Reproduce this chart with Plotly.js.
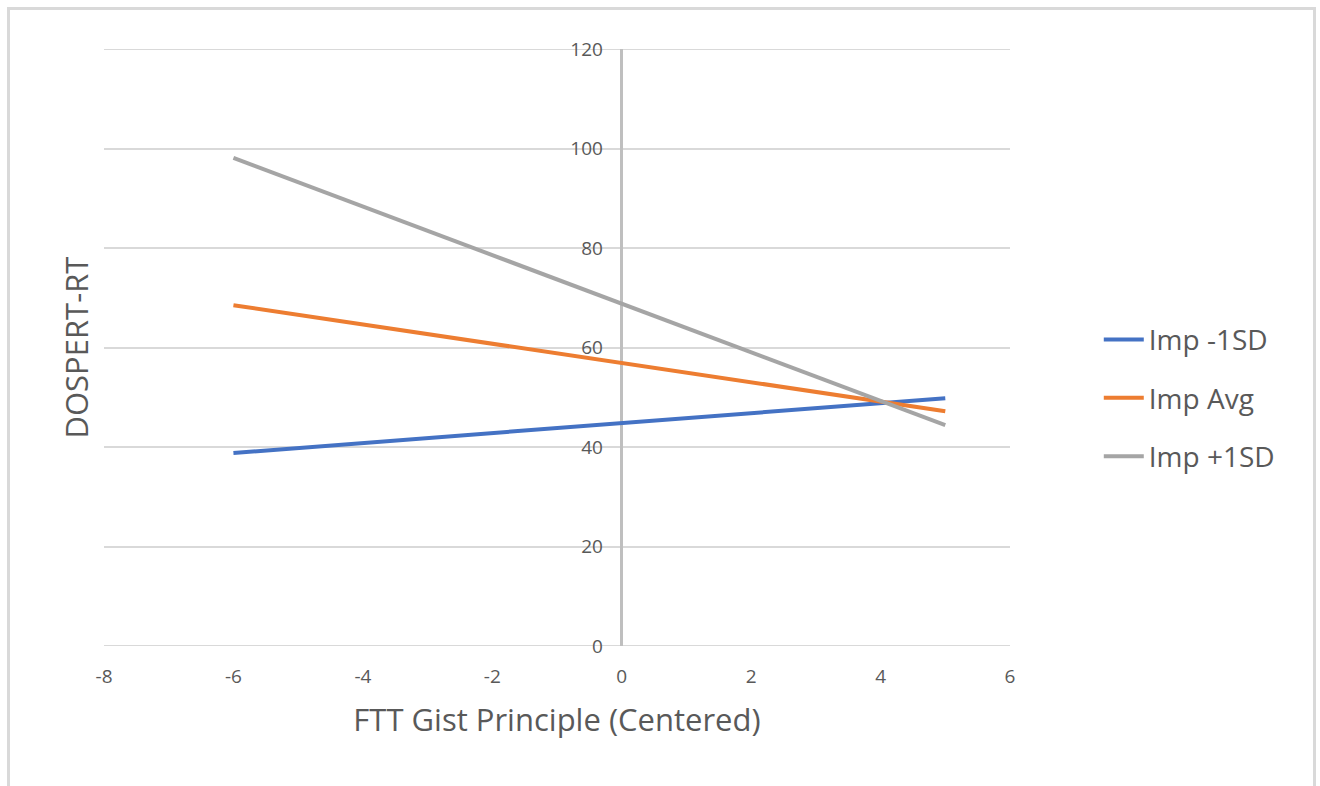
<!DOCTYPE html>
<html><head><meta charset="utf-8">
<script src="https://cdn.plot.ly/plotly-3.0.1.min.js"></script>
<style>
html,body{margin:0;padding:0;background:#fff;}
#wrap{position:relative;width:1320px;height:786px;overflow:hidden;}
#chart{position:absolute;left:0;top:0;width:1320px;height:786px;}
#frame{position:absolute;left:7px;top:7px;width:1303px;height:800px;border:3px solid #d9d9d9;pointer-events:none;}
</style></head>
<body><div id="wrap"><div id="chart"></div><div id="frame"></div></div>
<script>
const xValues = [-6, 5];
const seriesNames = ["Imp -1SD", "Imp Avg", "Imp +1SD"];
const impMinus1SD = [38.8, 49.8];
const impAvg = [68.5, 47.2];
const impPlus1SD = [98.1, 44.4];
const xTicks = [-8, -6, -4, -2, 0, 2, 4, 6];
const yTicks = [0, 20, 40, 60, 80, 100, 120];

const colors = ["#4472C4", "#ED7D31", "#A5A5A5"];
const seriesValues = [impMinus1SD, impAvg, impPlus1SD];
const FONT = "'Open Sans', sans-serif";

const traces = seriesValues.map((ys, i) => ({
  x: xValues, y: ys, type: "scatter", mode: "lines",
  name: seriesNames[i], legendgroup: "g" + i,
  line: {color: colors[i], width: 4}
}));

const xmin = -8, xmax = 6;
const yMin = yTicks[0], yMax = yTicks[yTicks.length - 1];
const edgeLines = [yMin, yMax].map(v => ({
  type: "line", xref: "paper", yref: "y", x0: 0, x1: 1, y0: v, y1: v,
  line: {color: "#d9d9d9", width: 2}, layer: "below"
}));

const layout = {
  width: 1320, height: 786,
  margin: {l: 104, r: 310, t: 49, b: 140},
  paper_bgcolor: "#ffffff", plot_bgcolor: "#ffffff",
  font: {family: FONT, color: "#595959"},
  showlegend: true,
  legend: {x: 1.098, xanchor: "left", y: 0.415, yanchor: "middle",
    font: {size: 28, color: "#595959", family: FONT},
    tracegroupgap: 19, itemwidth: 40, bgcolor: "rgba(0,0,0,0)"},
  xaxis: {
    range: [xmin, xmax], tickvals: xTicks, ticktext: xTicks.map(String),
    showgrid: false, zeroline: true, zerolinecolor: "#bfbfbf", zerolinewidth: 3,
    showline: false, ticks: "outside", ticklen: 13, tickcolor: "rgba(0,0,0,0)",
    tickfont: {size: 19, color: "#595959", family: FONT},
    title: {text: "FTT Gist Principle (Centered)", font: {size: 31, color: "#595959", family: FONT}, standoff: 21},
    fixedrange: true
  },
  yaxis: {
    range: [yMin, yMax], tickvals: yTicks, ticktext: yTicks.map(String),
    anchor: "free", position: (0 - xmin) / (xmax - xmin), side: "left",
    showgrid: true, gridcolor: "#d9d9d9", gridwidth: 2,
    zeroline: false, showline: false,
    ticks: "outside", ticklen: 15, tickcolor: "rgba(0,0,0,0)",
    tickfont: {size: 19, color: "#595959", family: FONT},
    fixedrange: true
  },
  shapes: edgeLines,
  annotations: [{
    text: "DOSPERT-RT", xref: "paper", yref: "paper",
    x: -0.032, y: 0.5, xanchor: "center", yanchor: "middle",
    textangle: -90, showarrow: false,
    font: {size: 31, color: "#595959", family: FONT}
  }]
};

Plotly.newPlot("chart", traces, layout, {displayModeBar: false, staticPlot: true});
</script></body></html>
